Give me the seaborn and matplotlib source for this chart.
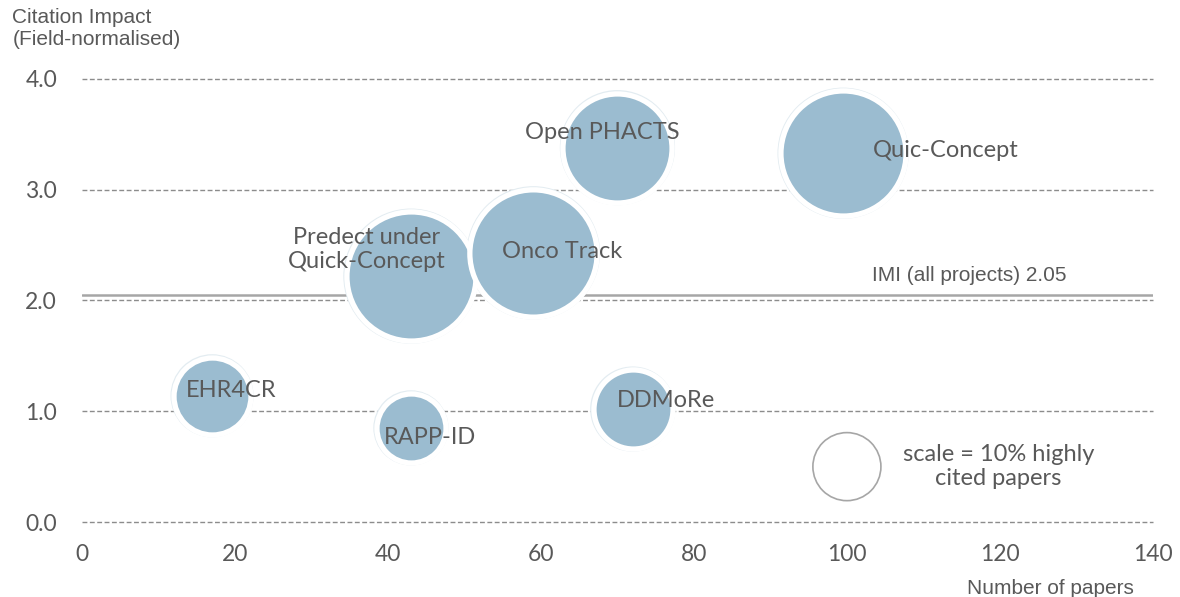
import numpy as np
import pandas as pd
import seaborn as sns
import matplotlib.pyplot as plt

# project bubbles: papers (x), field-normalised citation impact (y), % highly cited (size)
projects = ["EHR4CR", "RAPP-ID", "Predect under\nQuick-Concept", "Onco Track",
            "Open PHACTS", "Quic-Concept", "DDMoRe"]
papers = [17, 43, 43, 59, 70, 99.5, 72]
impact = [1.14, 0.85, 2.22, 2.43, 3.38, 3.33, 1.02]
highly_cited = [12.8, 10.3, 36.0, 35.0, 25.7, 33.8, 13.5]

imi_avg = 2.05
scale_share = 10          # size key bubble
scale_at = (100, 0.5)

x_ticks = [0, 20, 40, 60, 80, 100, 120, 140]
y_ticks = [0.0, 1.0, 2.0, 3.0, 4.0]

# label offsets from bubble centre, in points
label_offsets = {
    "EHR4CR": (14, 4),
    "RAPP-ID": (14, -7),
    "Predect under\nQuick-Concept": (-32, 19),
    "Onco Track": (21, 1),
    "Open PHACTS": (-11, 11),
    "Quic-Concept": (74, 2),
    "DDMoRe": (24, 6.5),
}

BLUE = "#9bbcd0"
TXT = "#595959"
S_PER_PCT = 240  # marker area (pt^2) per % highly cited


def main():
    sns.set_style("white")
    plt.rcParams["font.family"] = ["Lato", "DejaVu Sans"]

    df = pd.DataFrame({"project": projects, "papers": papers,
                       "impact": impact, "share": highly_cited})
    vmax = max(highly_cited)
    size_kw = dict(size="share", sizes=(0, S_PER_PCT * vmax), size_norm=(0, vmax), legend=False)

    fig = plt.figure(figsize=(11.8, 5.97), dpi=100)
    ax = fig.add_axes([0.0695, 0.1256, 0.9075, 0.7421])

    # faint outer ring, then the bubbles with white edge
    sns.scatterplot(data=df, x="papers", y="impact", ax=ax, facecolor="none",
                    edgecolor="#e3ecf1", linewidth=4.4, zorder=2, **size_kw)
    for i in range(len(df)):
        sns.scatterplot(data=df.iloc[[i]], x="papers", y="impact", ax=ax, color=BLUE,
                        edgecolor="white", linewidth=3.8, zorder=3 + i * 0.01, **size_kw)

    # scale key
    key = pd.DataFrame({"papers": [scale_at[0]], "impact": [scale_at[1]], "share": [scale_share]})
    sns.scatterplot(data=key, x="papers", y="impact", ax=ax, facecolor="none",
                    edgecolor="#a6a6a6", linewidth=1.2, zorder=3, **size_kw)
    ax.annotate("scale = 10% highly\ncited papers", xy=scale_at, xytext=(109, 0),
                textcoords="offset points", ha="center", va="center",
                fontsize=17, color=TXT, multialignment="center")

    for p, x, y in zip(projects, papers, impact):
        ax.annotate(p, xy=(x, y), xytext=label_offsets[p], textcoords="offset points",
                    ha="center", va="center", fontsize=17, color=TXT,
                    multialignment="center", zorder=10)

    # IMI average line
    ax.axhline(imi_avg, color="#a6a6a6", linewidth=1.8, zorder=1.5)
    ax.annotate("IMI (all projects) 2.05", xy=(116, imi_avg), xytext=(0, 14),
                textcoords="offset points", ha="center", va="center",
                fontsize=15, color=TXT, family="Liberation Sans")

    ax.set_xlim(0, 140)
    ax.set_ylim(0, 4)
    ax.set_xticks(x_ticks)
    ax.set_yticks(y_ticks)
    ax.set_yticklabels([f"{v:.1f}" for v in y_ticks])
    ax.tick_params(axis="both", length=0, labelsize=16.5, colors=TXT)
    ax.tick_params(axis="x", pad=16)
    ax.tick_params(axis="y", pad=18)
    ax.set_axisbelow(True)
    ax.yaxis.grid(True, color="#8c8c8c", linewidth=1.0, linestyle=(0, (3.5, 1.8)))
    ax.xaxis.grid(False)
    for gl in ax.get_ygridlines():
        gl.set_clip_on(False)
    sns.despine(ax=ax, left=True, bottom=True)

    ax.set_xlabel("Number of papers", fontsize=15, color=TXT, family="Liberation Sans")
    ax.xaxis.set_label_coords(0.904, -0.129)
    ax.set_ylabel("Citation Impact\n(Field-normalised)", fontsize=15, color=TXT,
                  family="Liberation Sans", rotation=0, ha="left", va="top",
                  multialignment="left")
    ax.yaxis.set_label_coords(-0.065, 1.16)

    fig.savefig("out.png", dpi=100)


if __name__ == '__main__':
    main()
